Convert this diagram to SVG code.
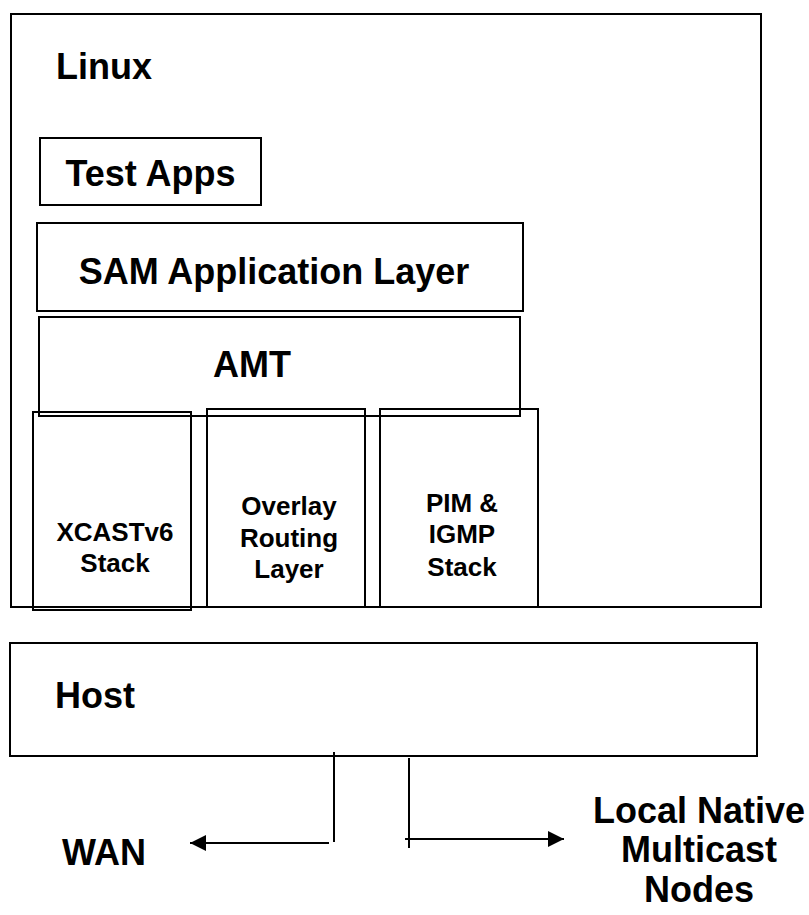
<svg xmlns="http://www.w3.org/2000/svg" width="809" height="915" viewBox="0 0 809 915">
<style>
.box{fill:none;stroke:#000;stroke-width:2}
.t{font-family:"Liberation Sans",Arial,sans-serif;font-weight:bold;fill:#000}
.big{font-size:36px}
.sm{font-size:26px}
.ln{stroke:#000;stroke-width:2;fill:none}
</style>
<defs>
<marker id="ah" markerWidth="16" markerHeight="16" refX="16" refY="8" orient="auto" markerUnits="userSpaceOnUse">
<path d="M0,0 L16,8 L0,16 Z" fill="#000"/>
</marker>
</defs>
<rect width="809" height="915" fill="#fff"/>
<g id="linux">
<rect class="box" x="11" y="14" width="750" height="593"/>
<text class="t big" x="56" y="79">Linux</text>
</g>
<g id="testapps">
<rect class="box" x="40" y="138" width="221" height="67"/>
<text class="t big" x="150.5" y="186" text-anchor="middle">Test Apps</text>
</g>
<g id="sam">
<rect class="box" x="37" y="223" width="486" height="88"/>
<text class="t big" x="274" y="284" text-anchor="middle">SAM Application Layer</text>
</g>
<g id="amt">
<rect class="box" x="39" y="317" width="481" height="99"/>
<text class="t big" x="252" y="377" text-anchor="middle">AMT</text>
</g>
<g id="xcast">
<rect class="box" x="33" y="412" width="158" height="198"/>
<text class="t sm" x="115" y="541" text-anchor="middle">XCASTv6</text>
<text class="t sm" x="115" y="572" text-anchor="middle">Stack</text>
</g>
<g id="overlay">
<rect class="box" x="207" y="409" width="158" height="198"/>
<text class="t sm" x="289" y="515" text-anchor="middle">Overlay</text>
<text class="t sm" x="289" y="547" text-anchor="middle">Routing</text>
<text class="t sm" x="289" y="578" text-anchor="middle">Layer</text>
</g>
<g id="pim">
<rect class="box" x="380" y="409" width="158" height="198"/>
<text class="t sm" x="462" y="512" text-anchor="middle">PIM &amp;</text>
<text class="t sm" x="462" y="543" text-anchor="middle">IGMP</text>
<text class="t sm" x="462" y="576" text-anchor="middle">Stack</text>
</g>
<g id="host">
<rect class="box" x="10" y="643" width="747" height="113"/>
<text class="t big" x="55" y="708">Host</text>
</g>
<g id="wan">
<text class="t big" x="62" y="865">WAN</text>
</g>
<g id="local">
<text class="t big" x="699" y="823" text-anchor="middle">Local Native</text>
<text class="t big" x="699" y="862" text-anchor="middle">Multicast</text>
<text class="t big" x="699" y="902" text-anchor="middle">Nodes</text>
</g>
<g id="connectors">
<line class="ln" x1="334" y1="752" x2="334" y2="842"/>
<line class="ln" x1="329" y1="843" x2="190" y2="843" marker-end="url(#ah)"/>
<line class="ln" x1="409" y1="758" x2="409" y2="848"/>
<line class="ln" x1="405" y1="839" x2="564" y2="839" marker-end="url(#ah)"/>
</g>
</svg>
